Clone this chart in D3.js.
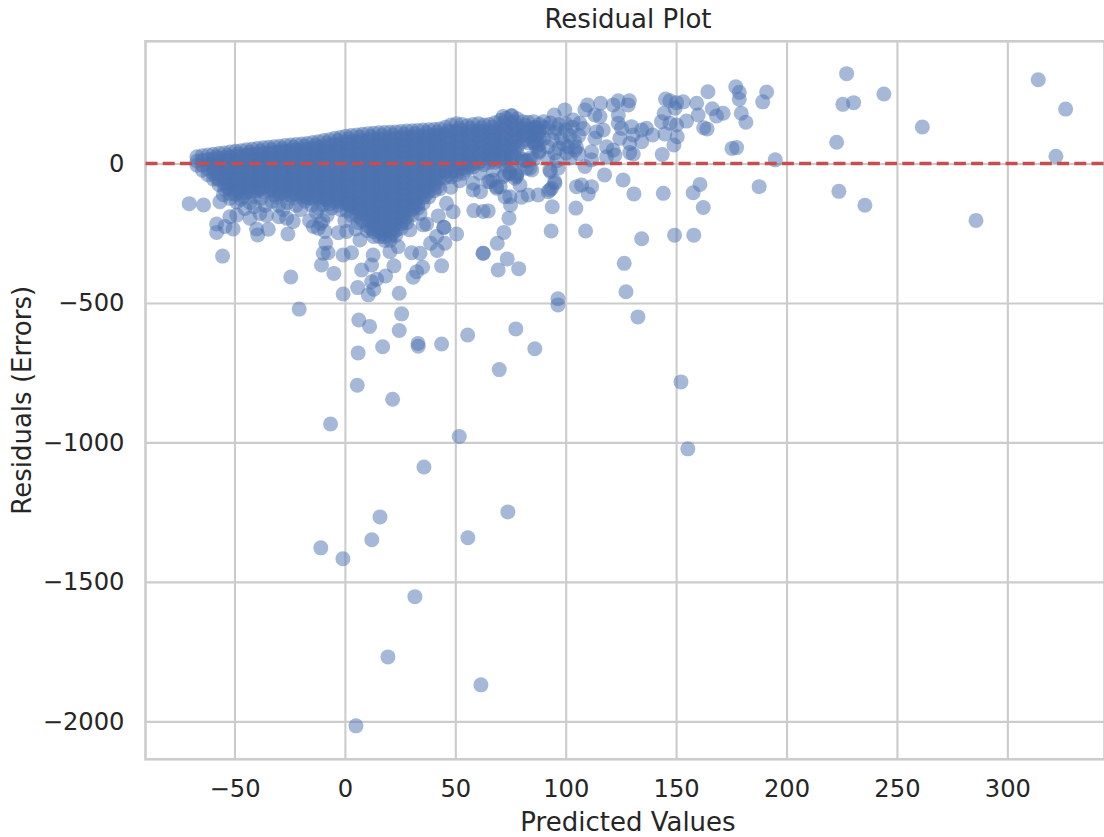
<!DOCTYPE html>
<html>
<head>
<meta charset="utf-8">
<script src="https://cdn.jsdelivr.net/npm/d3@7"></script>
<style>
  html, body { margin: 0; padding: 0; background: #fff; }
  svg { display: block; }
  text { font-family: "DejaVu Sans", sans-serif; fill: #262626; }
</style>
</head>
<body>
<div id="chart"></div>
<script>
const xTicks = [-50, 0, 50, 100, 150, 200, 250, 300];
const yTicks = [0, -500, -1000, -1500, -2000];

// the solid mass: single points can't be read there, so residuals are estimated per predicted value
const massPredicted = [-67,-64.5,-62,-59.5,-57,-54.5,-52,-49.5,-47,-44.5,-42,-39.5,-37,-34.5,-32,-29.5,-27,-24.5,-22,-19.5,-17,-14.5,-12,-9.5,-7,-4.5,-2,0.5,3,5.5,8,10.5,13,15.5,18,20.5,23,25.5,28,30.5,33,35.5,38,40.5,43,45.5,48,50.5,53,55.5,58,60.5,63,65.5,68,70.5,73,75.5,78,80.5,83,85.5,88];
const massResiduals = [
  [24,8,-6],
  [28,12,-6,-24],
  [30,14,-3,-20,-40],
  [33,16,0,-18,-37,-56],
  [36,18,0,-19,-38,-58,-76],
  [38,20,2,-16,-35,-54,-73,-92],
  [41,22,3,-16,-36,-55,-74,-93,-108],
  [44,25,5,-15,-34,-53,-72,-92,-110],
  [46,27,8,-12,-31,-50,-70,-89,-106],
  [49,30,10,-10,-30,-49,-68,-88,-104],
  [51,32,12,-8,-28,-48,-67,-87,-101],
  [54,34,14,-6,-26,-46,-66,-85,-98],
  [56,36,16,-4,-24,-44,-64,-84,-100],
  [58,38,18,-2,-22,-42,-62,-82,-98],
  [60,40,20,0,-20,-40,-60,-80,-100],
  [62,42,22,2,-18,-38,-58,-78,-98,-110],
  [64,44,24,4,-16,-36,-56,-76,-96,-112],
  [66,46,26,6,-14,-34,-54,-74,-94,-114],
  [68,48,28,8,-12,-32,-52,-72,-92,-112],
  [70,50,30,10,-10,-30,-50,-70,-90,-110,-120],
  [72,52,32,12,-8,-28,-48,-68,-88,-108,-122],
  [75,54,34,14,-6,-26,-46,-66,-86,-106,-124],
  [78,57,36,16,-4,-24,-44,-64,-84,-104,-124],
  [82,60,39,18,-2,-22,-42,-62,-82,-102,-122,-130],
  [85,64,42,21,0,-20,-40,-60,-80,-100,-120,-134],
  [90,68,46,24,2,-18,-38,-58,-78,-98,-118,-136],
  [93,71,49,27,5,-16,-36,-56,-76,-96,-116,-136],
  [98,76,54,32,10,-12,-34,-56,-78,-100,-122,-142],
  [100,78,56,34,12,-10,-32,-54,-76,-98,-120,-142,-160],
  [102,80,58,36,14,-8,-30,-52,-74,-96,-118,-140,-162,-185],
  [105,83,61,39,17,-5,-27,-49,-71,-93,-115,-137,-159,-181,-205],
  [107,85,63,41,19,-3,-25,-47,-69,-91,-113,-135,-157,-179,-201,-225],
  [108,86,64,42,20,-2,-24,-46,-68,-90,-112,-134,-156,-178,-200,-222,-245],
  [110,88,66,44,22,0,-22,-44,-66,-88,-110,-132,-154,-176,-198,-220,-242,-262],
  [111,89,67,45,23,1,-21,-43,-65,-87,-109,-131,-153,-175,-197,-219,-241,-263,-276],
  [112,90,68,46,24,2,-20,-42,-64,-86,-108,-130,-152,-174,-196,-218,-240,-262,-275],
  [113,91,69,47,25,3,-19,-41,-63,-85,-107,-129,-151,-173,-195,-217,-239,-258],
  [115,93,71,49,27,5,-17,-39,-61,-83,-105,-127,-149,-171,-193,-215,-232],
  [116,94,72,50,28,6,-16,-38,-60,-82,-104,-126,-148,-170,-192,-212],
  [117,95,73,51,29,7,-15,-37,-59,-81,-103,-125,-147,-165,-185],
  [118,96,74,52,30,8,-14,-36,-58,-80,-102,-124,-146,-160],
  [120,98,76,54,32,10,-12,-34,-56,-78,-100,-122,-142],
  [121,99,77,55,33,11,-11,-33,-55,-77,-99,-120],
  [122,100,78,56,34,12,-10,-32,-54,-76,-98],
  [124,102,80,58,36,14,-8,-30,-52,-90],
  [130,106,82,60,38,16,-6,-28,-50],
  [138,112,86,62,38,14,-8,-30,-48],
  [142,116,90,66,42,18,-4,-24,-40],
  [140,118,94,70,46,22,0,-18],
  [135,112,90,68,46,24,2,-14],
  [140,116,92,68,44,20,0,-12],
  [142,118,94,70,46,22,2],
  [138,114,90,66,42,20,-4],
  [140,116,92,70,48,26,4],
  [146,120,96,72,48,24,4],
  [155,128,102,78,54,30,8],
  [162,136,110,84,58,34,10,-10],
  [172,146,118,90,64,38,14,-8],
  [160,134,108,84,60,36],
  [150,126,102,78,14],
  [148,122,98,74,12],
  [150,124,100,76,16],
  [140,116,92,68,46]
];

// a second, sparser estimate inside the mass so that it reads as solid
const coreAt = [-58.2,-53.2,-48.2,-43.2,-38.2,-33.2,-28.2,-23.2,-18.2,-13.2,-8.2,-3.2,1.8,6.8,11.8,16.8,21.8,26.8,31.8,36.8,41.8,46.8,51.8,56.8,61.8,66.8,71.8,76.8,81.8,86.8];
const coreResiduals = [
  [24,6,-12,-30,-50],
  [29,11,-8,-27,-46,-65,-84],
  [34,15,-5,-24,-43,-62,-81,-98],
  [40,20,1,-19,-38,-58,-78,-95],
  [45,25,5,-15,-35,-55,-75,-90],
  [49,29,9,-11,-31,-51,-71,-90],
  [53,33,13,-7,-27,-47,-67,-87,-103],
  [57,37,17,-3,-23,-43,-63,-83,-103],
  [61,41,21,1,-19,-39,-59,-79,-99,-115],
  [65,45,25,5,-15,-35,-55,-75,-95,-115],
  [73,52,31,10,-11,-31,-51,-71,-91,-111,-128],
  [82,60,38,16,-7,-27,-47,-67,-87,-107,-127],
  [89,67,45,23,1,-21,-43,-65,-87,-109,-131,-150],
  [94,72,50,28,6,-16,-38,-60,-82,-104,-126,-148,-170,-192],
  [97,75,53,31,9,-13,-35,-57,-79,-101,-123,-145,-167,-189,-211,-232],
  [100,78,56,34,12,-10,-32,-54,-76,-98,-120,-142,-164,-186,-208,-230,-252],
  [102,80,58,36,14,-8,-30,-52,-74,-96,-118,-140,-162,-184,-206,-228,-250],
  [105,83,61,39,17,-5,-27,-49,-71,-93,-115,-137,-159,-181,-203],
  [107,85,63,41,19,-3,-25,-47,-69,-91,-113,-135,-155],
  [110,88,66,44,22,0,-22,-44,-66,-88,-110],
  [112,90,68,46,24,2,-20,-42,-64,-84],
  [118,94,71,48,26,4,-18,-40],
  [126,102,78,54,30,8,-12],
  [126,102,78,56,34,12,-5],
  [128,104,80,56,32,10],
  [130,106,82,58,36,14],
  [145,118,92,66,42,20],
  [150,124,98,74,48,24],
  [136,110,86,10],
  [128,104,80,58]
];

// points that can be told apart, [predicted, residual]
const loosePoints = [
  [227.2,322],[225.5,212],[230.4,218],[244.1,249],[222.7,76],[223.7,-100],[235.5,-150],[261.5,131],[285.8,-204],[314,300],[326.4,195],[322,26],
  [164.4,257],[177,275],[178.6,255],[178.6,230],[191,256],[189.2,221],[179.5,180],[181.6,148],[159.3,216],[166.4,196],[171.3,180],[168.3,170],[160,174],[162.5,128],[164,124],[175.3,54],[177.4,57],[194.9,13],[187.6,-83],[160.8,-75],[157.7,-105],[162.3,-158],[158,-257],[149.3,-257],[144.2,-107],[134.4,-270],[130.9,-109],[126,-59],[117.6,-41],[110.2,-109],[111.7,-83],[107.2,-77],[104.9,-83],[104.6,-160],[109,-242],[93.4,-242],[93.9,-155],[126.5,-358],
  [145.2,231],[147.2,225],[150.2,218],[153.2,221],[149.5,198],[144.6,180],[143.4,150],[147.2,144],[150.2,138],[154.7,152],[144.9,106],[150.5,96],[149,66],[143.7,32],
  [128.8,225],[123.8,225],[121.5,210],[115.8,216],[109.9,210],[108.7,192],[113.2,174],[115.5,168],[123.8,174],[128.3,210],[123.8,144],[125.3,126],[129.8,132],[130.6,102],[134.4,120],[136.6,126],[139.4,102],[134.4,78],[129,72],[130.6,34],[129,39],[124.5,90],[121.5,48],[118.5,24],[122.3,30],[118.5,60],[117,120],[114,114],[113.2,90],[111.7,42],[111.7,13],[108.7,-11],[104.9,58],[104.2,48],[100.4,38],[96.6,-17],[93.1,-29],[95.1,-71],[93.6,-89],[92.1,-101],[87.5,-113],[83,-113],[80,-121],[79.3,-77],[77,-53],[78,-35],
  [74.7,-119],[75,-149],[74.3,-196],[72,-247],[69,-286],[62.6,-322],[62.6,-322],[73.5,-342],[69.4,-382],[78.7,-377],[58.4,-169],[62.6,-172],[64.9,-170],[58.1,-95],[61.4,-101],[68.7,-89],[65.7,-65],[67,-59],[72.5,-41],[70.3,-83],[99.6,192],[94.8,174],[75.5,170],[71.7,168],[103.4,156],[106.4,144],
  [90,150],[92,128],[95,110],[97,140],[100,120],[98,90],[102,100],[92,60],[95,38],[99,70],[103,130],[106,100],[88,110],[86,130],[90,90],[86,70],[88,40],[92,20],[84,20],[80,8],[96,10],[102,20],[74.7,-35],[77.7,-47],[72.5,-119],[92.8,-95],[95,-65],[83.8,-17],[92.8,-23],
  [90,130],[93,145],[96,125],[100,142],[94,85],[97,55],[104,80],[108,125],[101,60],[106,35],
  [53.6,-35],[58.1,-71],[64.9,-65],[68.7,-83],[71.7,-47],[74.7,-35],[77.7,-41],[55.1,-23],[61.1,-35],[67.2,-23],[82.3,-17],[84.6,-23],[48,-85],[52,-62],
  [-55.4,-332],[-24.5,-407],[-20.7,-522],[-10.6,-364],[-5,-394],[-0.8,-468],[5.8,-445],[10.6,-471],[13.1,-451],[12.1,-424],[14.4,-415],[18.4,-403],[24.6,-465],[7.6,-382],[12.1,-364],[12.8,-328],[22.2,-367],[30.9,-408],[32.5,-388],[35.2,-372],[43.8,-367],[30.2,-320],[34,-322],[41.8,-312],[45.3,-286],[38.8,-286],[50.6,-253],
  [25.7,-539],[6.3,-561],[11.2,-584],[24.6,-599],[17.1,-657],[33.1,-645],[33.2,-655],[43.8,-647],[6,-679],[5.6,-795],[21.6,-845],[55.6,-615],[77.4,-593],[86,-664],[69.9,-739],[-6.5,-934],[51.8,-979],
  [96.5,-485],[96.5,-507],[132.7,-550],[127.3,-460],[152.2,-783],[155.3,-1023],[35.8,-1088],[73.8,-1249],[15.9,-1267],[-10.9,-1378],[-0.9,-1417],[12.2,-1349],[55.7,-1342],[31.7,-1553],[19.5,-1769],[61.6,-1869],[5,-2016],
  [-70.5,-144],[-64,-149],[-56.6,-137],[-58.1,-217],[-58.1,-247],[-54.3,-226],[-50.6,-235],[-52.1,-191],[-40,-235],[-39.5,-256],[-34.7,-236],[-25.8,-253],[-23.4,-208],[-26.4,-196],[-29.9,-191],[-35.5,-185],[-38.5,-179],[-43,-196],[-45.3,-161],[-49,-185],[-14.3,-226],[-12.1,-232],[-9,-244],[-3,-248],[0.8,-244],[-8.7,-286],[-9.8,-322],[-7.6,-320],[-0.8,-328],
  [3,-320],[6.8,-274],[41.5,-262],[44.8,-229],[44.8,-229],[42.3,-188],[37,-217],[35.5,-220],[29.4,-238],[20.4,-316],[24.1,-298],[34,-179],[49,-173],[46,-143],[3,-185],
  [-47,-128],[-43,-140],[-38,-125],[-33,-135],[-30,-150],[-26,-140],[-22,-150],[-18,-135],[-15,-150],[-10,-148],[-6,-160],[-2,-165],[2,-150],[-13,-175],[-8,-185],[-10,-205],[0,-205],[-16,-205],[-11,-215],
  [-55,-112],[-52,-125],[-49,-138],[-46,-118],[-41,-118],[-41,-155],[-32,-112],[-36,-150],[-31,-120],[-28,-165],[-24,-125],[-20,-165],[-16,-125],[-12,-160],[-7,-145],[-3,-150],[1,-170],[6,-212],[5,-235],[10,-240],[13,-262]
];

const WIDTH = 1104, HEIGHT = 837;
const plot = { left: 145.5, right: 1104.5, top: 41.3, bottom: 759.3 };

const xScale = d3.scaleLinear().domain([-90.3, 344]).range([plot.left, plot.right]);
const yScale = d3.scaleLinear().domain([-2136, 438]).range([plot.bottom, plot.top]);

const points = loosePoints.map(p => ({ predicted: p[0], residual: p[1] }));
massPredicted.forEach((x, i) => {
  massResiduals[i].forEach(r => points.push({ predicted: x, residual: r }));
});
coreAt.forEach((x, i) => {
  coreResiduals[i].forEach(r => points.push({ predicted: x, residual: r }));
});

const $svg = d3.select('#chart').append('svg')
  .attr('width', WIDTH)
  .attr('height', HEIGHT);

const minusFormat = d => String(d).replace('-', '\u2212');

const xAxis = d3.axisBottom(xScale)
  .tickValues(xTicks)
  .tickFormat(minusFormat)
  .tickSize(-(plot.bottom - plot.top))
  .tickPadding(21);

const yAxis = d3.axisLeft(yScale)
  .tickValues(yTicks)
  .tickFormat(minusFormat)
  .tickSize(-(plot.right - plot.left))
  .tickPadding(21);

const styleAxis = ($g) => {
  $g.select('.domain').remove();
  $g.selectAll('.tick line').attr('stroke', '#cccccc').attr('stroke-width', 2.1);
  $g.selectAll('.tick text').style('font-size', '24.2px').attr('fill', '#262626');
};

$svg.append('g')
  .attr('transform', `translate(0, ${plot.bottom})`)
  .call(xAxis)
  .call(styleAxis);

$svg.append('g')
  .attr('transform', `translate(${plot.left}, 0)`)
  .call(yAxis)
  .call(styleAxis);

// spines
$svg.append('rect')
  .attr('x', plot.left)
  .attr('y', plot.top)
  .attr('width', plot.right - plot.left)
  .attr('height', plot.bottom - plot.top)
  .attr('fill', 'none')
  .attr('stroke', '#cccccc')
  .attr('stroke-width', 2.6);

$svg.append('g').selectAll('circle')
  .data(points)
  .enter().append('circle')
  .attr('cx', d => xScale(d.predicted))
  .attr('cy', d => yScale(d.residual))
  .attr('r', 7.5)
  .attr('fill', '#4c72b0')
  .attr('fill-opacity', 0.5);

$svg.append('line')
  .attr('x1', plot.left)
  .attr('x2', plot.right)
  .attr('y1', yScale(0))
  .attr('y2', yScale(0))
  .attr('stroke', '#c44e52')
  .attr('stroke-width', 3.6)
  .attr('stroke-dasharray', '12 5.2');

$svg.append('text')
  .attr('x', (plot.left + plot.right) / 2 + 3)
  .attr('y', 28)
  .attr('text-anchor', 'middle')
  .style('font-size', '26px')
  .text('Residual Plot');

$svg.append('text')
  .attr('x', (plot.left + plot.right) / 2 + 3)
  .attr('y', 831)
  .attr('text-anchor', 'middle')
  .style('font-size', '26px')
  .text('Predicted Values');

$svg.append('text')
  .attr('transform', `translate(31, ${(plot.top + plot.bottom) / 2}) rotate(-90)`)
  .attr('text-anchor', 'middle')
  .style('font-size', '26px')
  .text('Residuals (Errors)');
</script>
</body>
</html>
